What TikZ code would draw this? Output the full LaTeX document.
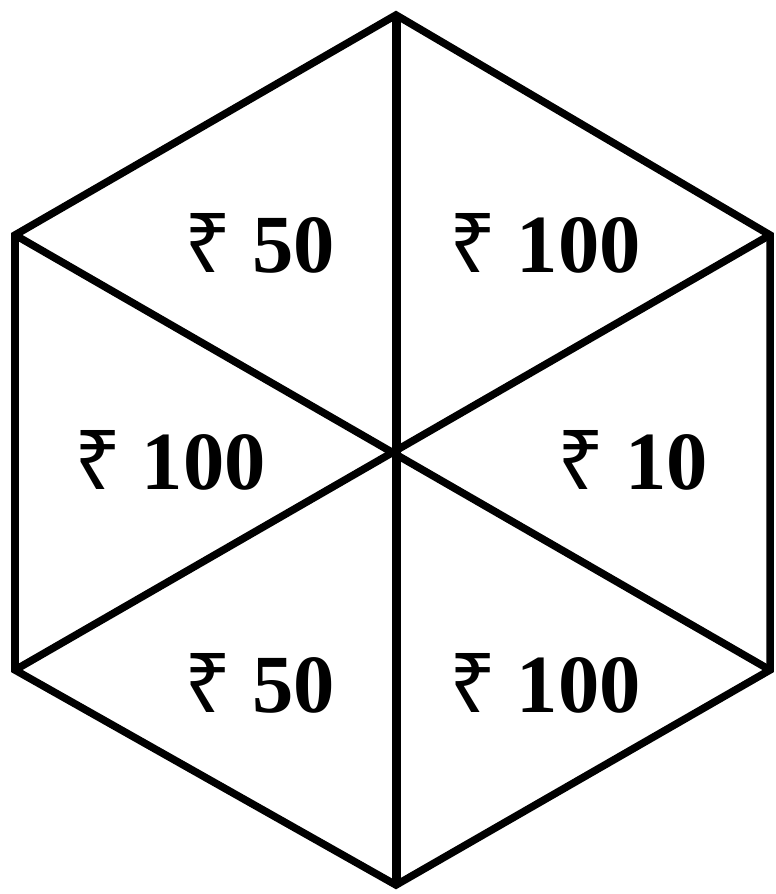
\documentclass[tikz,border=0pt]{standalone}
\usepackage{fontspec}
\setmainfont{Liberation Serif}
\newfontfamily\rupeefont{Noto Sans}
\newcommand{\Rs}{{\rupeefont\fontseries{b}\selectfont ₹}}
\begin{document}
\begin{tikzpicture}[x=0.01cm,y=-0.01cm,
  edge/.style={line width=0.075cm,line join=miter,line cap=butt},
  lbl/.style={font=\fontsize{23.5}{28}\selectfont\bfseries,inner sep=0pt}]
\useasboundingbox (0,0) rectangle (776,894);
\coordinate (T) at (396,15);
\coordinate (UR) at (770,235);
\coordinate (LR) at (770,670);
\coordinate (B) at (396,885);
\coordinate (LL) at (15,670);
\coordinate (UL) at (15,235);
\coordinate (C) at (396,452);
\draw[edge] (T) -- (UR) -- (LR) -- (B) -- (LL) -- (UL) -- cycle;
\draw[edge,line width=0.09cm] (T) -- (B);
\draw[edge] (UL) -- (LR);
\draw[edge] (UR) -- (LL);
\node[lbl] (a) at (260,243) {\Rs\ 50};
\node[lbl] (b) at (545,243) {\Rs\ 100};
\node[lbl] (c) at (170,460) {\Rs\ 100};
\node[lbl] (d) at (633,460) {\Rs\ 10};
\node[lbl] (e) at (260,683) {\Rs\ 50};
\node[lbl] (f) at (545,683) {\Rs\ 100};
\end{tikzpicture}
\end{document}
